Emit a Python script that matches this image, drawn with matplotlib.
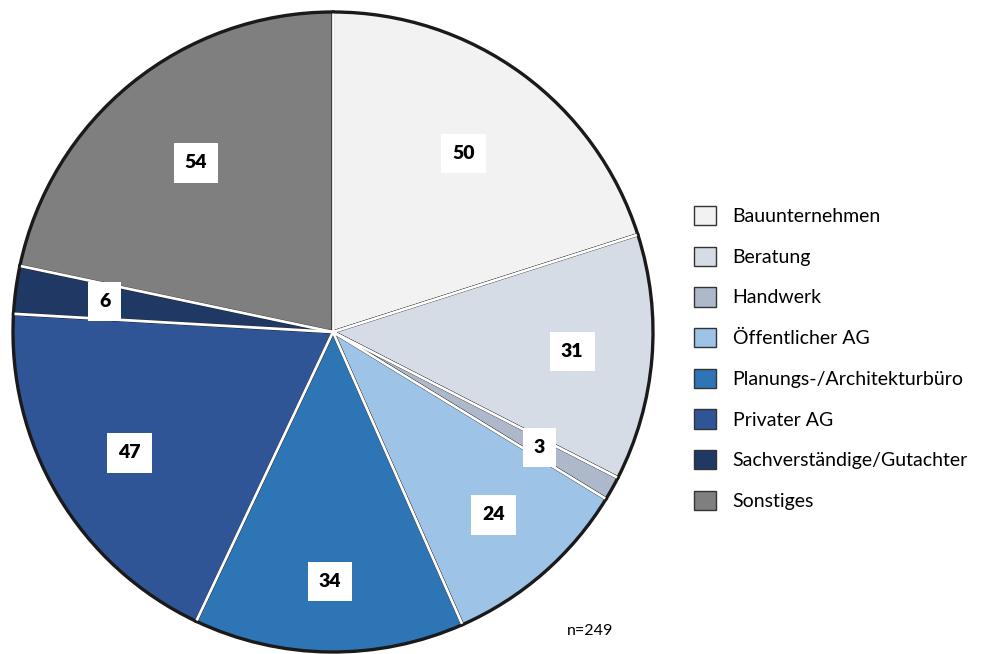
import numpy as np
import matplotlib.pyplot as plt
from matplotlib.patches import Patch

kategorien = ["Bauunternehmen", "Beratung", "Handwerk", "Öffentlicher AG",
              "Planungs-/Architekturbüro", "Privater AG",
              "Sachverständige/Gutachter", "Sonstiges"]
anzahl = [50, 31, 3, 24, 34, 47, 6, 54]
farben = ["#F2F2F2", "#D6DCE5", "#ADB9CA", "#9DC3E6",
          "#2E75B6", "#2F5597", "#203864", "#7F7F7F"]
# Abstand der Wertelabels vom Mittelpunkt (Anteil am Radius)
label_abstand = [0.69, 0.75, 0.74, 0.76, 0.78, 0.74, 0.72, 0.68]

plt.rcParams['font.family'] = ['Lato', 'DejaVu Sans']

fig = plt.figure(figsize=(9.9, 6.54), dpi=100)
ax = fig.add_axes([0, 0, 1, 1])

cx, cy, r = 333, 322, 320
wedges, _ = ax.pie(anzahl, colors=farben, startangle=90, counterclock=False,
                   center=(cx, cy), radius=r, frame=True,
                   wedgeprops=dict(edgecolor='#1a1a1a', linewidth=2.4))
ax.set_xlim(0, 990)
ax.set_ylim(0, 654)
ax.set_aspect('equal')
ax.axis('off')

# weisse Trennlinien zwischen den Segmenten
gesamt = sum(anzahl)
grenzen = 90 - 360 * np.cumsum([0] + anzahl[:-1]) / gesamt
for w in grenzen:
    t = np.deg2rad(w)
    ax.plot([cx, cx + (r - 1) * np.cos(t)], [cy, cy + (r - 1) * np.sin(t)],
            color='white', lw=2.0, solid_capstyle='butt', zorder=3)

# Wertelabels in weissen Kaesten
mitte = 90 - 360 * (np.cumsum(anzahl) - np.array(anzahl) / 2) / gesamt
for wert, m, a in zip(anzahl, mitte, label_abstand):
    t = np.deg2rad(m)
    ax.text(cx + a * r * np.cos(t), cy + a * r * np.sin(t), str(wert),
            ha='center', va='center', fontsize=14, fontweight='heavy',
            color='black', zorder=5,
            bbox=dict(facecolor='white', edgecolor='none', pad=8))

handles = [Patch(facecolor=f, edgecolor='#333333', linewidth=1) for f in farben]
fig.legend(handles, kategorien, loc='upper left', bbox_to_anchor=(0.683, 0.712),
           frameon=False, fontsize=14, handlelength=1.15, handleheight=1.15,
           handletextpad=0.85, labelspacing=1.1)

ax.text(590, 654 - 631, "n=249", ha='center', va='center', fontsize=11.5)

fig.savefig("out.png", dpi=100)
